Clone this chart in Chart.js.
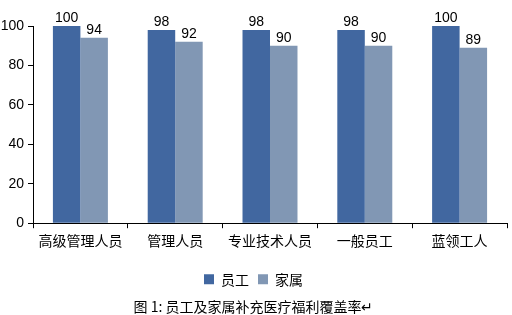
<!DOCTYPE html>
<html>
<head>
<meta charset="utf-8">
<script src="https://cdn.jsdelivr.net/npm/chart.js@4"></script>
<style>
  html, body { margin: 0; padding: 0; background: #fff; }
  #wrap { width: 512px; height: 315px; }
</style>
</head>
<body>
<div id="wrap"><canvas id="myChart" width="512" height="315"></canvas></div>
<script>
const categories = ["高级管理人员", "管理人员", "专业技术人员", "一般员工", "蓝领工人"];
const staffValues = [100, 98, 98, 98, 100];
const familyValues = [94, 92, 90, 90, 89];
const seriesNames = ["员工", "家属"];
const yTicks = [0, 20, 40, 60, 80, 100];
const chartTitle = "图 1: 员工及家属补充医疗福利覆盖率↵";

const cjk = "'Noto Sans CJK SC', 'Liberation Sans', sans-serif";
const num = "'Liberation Sans', Arial, sans-serif";

// draws the value above each bar
const barLabels = {
  id: "barLabels",
  afterDatasetsDraw(chart) {
    const ctx = chart.ctx;
    ctx.save();
    ctx.font = "14px " + num;
    ctx.fillStyle = "#000";
    ctx.textAlign = "center";
    ctx.textBaseline = "bottom";
    chart.data.datasets.forEach((ds, i) => {
      chart.getDatasetMeta(i).data.forEach((bar, j) => {
        ctx.fillText(ds.data[j], bar.x, bar.y - 1);
      });
    });
    ctx.restore();
  },
};

const data = {
  labels: categories,
  datasets: [
    {
      label: seriesNames[0],
      data: staffValues,
      backgroundColor: "#4167a0",
      categoryPercentage: 0.58,
      barPercentage: 1,
    },
    {
      label: seriesNames[1],
      data: familyValues,
      backgroundColor: "#8197b4",
      categoryPercentage: 0.58,
      barPercentage: 1,
    },
  ],
};

const config = {
  type: "bar",
  data,
  plugins: [barLabels],
  options: {
    responsive: false,
    animation: false,
    layout: { padding: { top: 26, right: 5, left: 0, bottom: 0 } },
    scales: {
      x: {
        offset: true,
        grid: {
          display: true,
          offset: true,
          drawOnChartArea: false,
          tickLength: 5,
          color: "#000",
        },
        border: { color: "#000" },
        ticks: { color: "#000", font: { family: cjk, size: 14 }, padding: 4, maxRotation: 0 },
        afterFit(scale) { scale.height = 40; },
      },
      y: {
        min: 0,
        max: 100,
        afterBuildTicks(scale) { scale.ticks = yTicks.map((v) => ({ value: v })); },
        grid: { display: true, drawOnChartArea: false, tickLength: 5, color: "#000" },
        border: { color: "#000" },
        ticks: { color: "#000", font: { family: num, size: 14 }, padding: 4 },
        afterFit(scale) { scale.width = 33; },
      },
    },
    plugins: {
      legend: {
        position: "bottom",
        labels: {
          color: "#000",
          font: { family: cjk, size: 14 },
          boxWidth: 10,
          boxHeight: 10,
          padding: 9,
        },
      },
      title: {
        display: true,
        position: "bottom",
        text: chartTitle,
        color: "#000",
        font: { family: cjk, size: 14, weight: "normal" },
        padding: { top: 2, bottom: 0 },
      },
      tooltip: { enabled: false },
    },
  },
};

var myChart = new Chart(document.getElementById("myChart"), config);
</script>
</body>
</html>
